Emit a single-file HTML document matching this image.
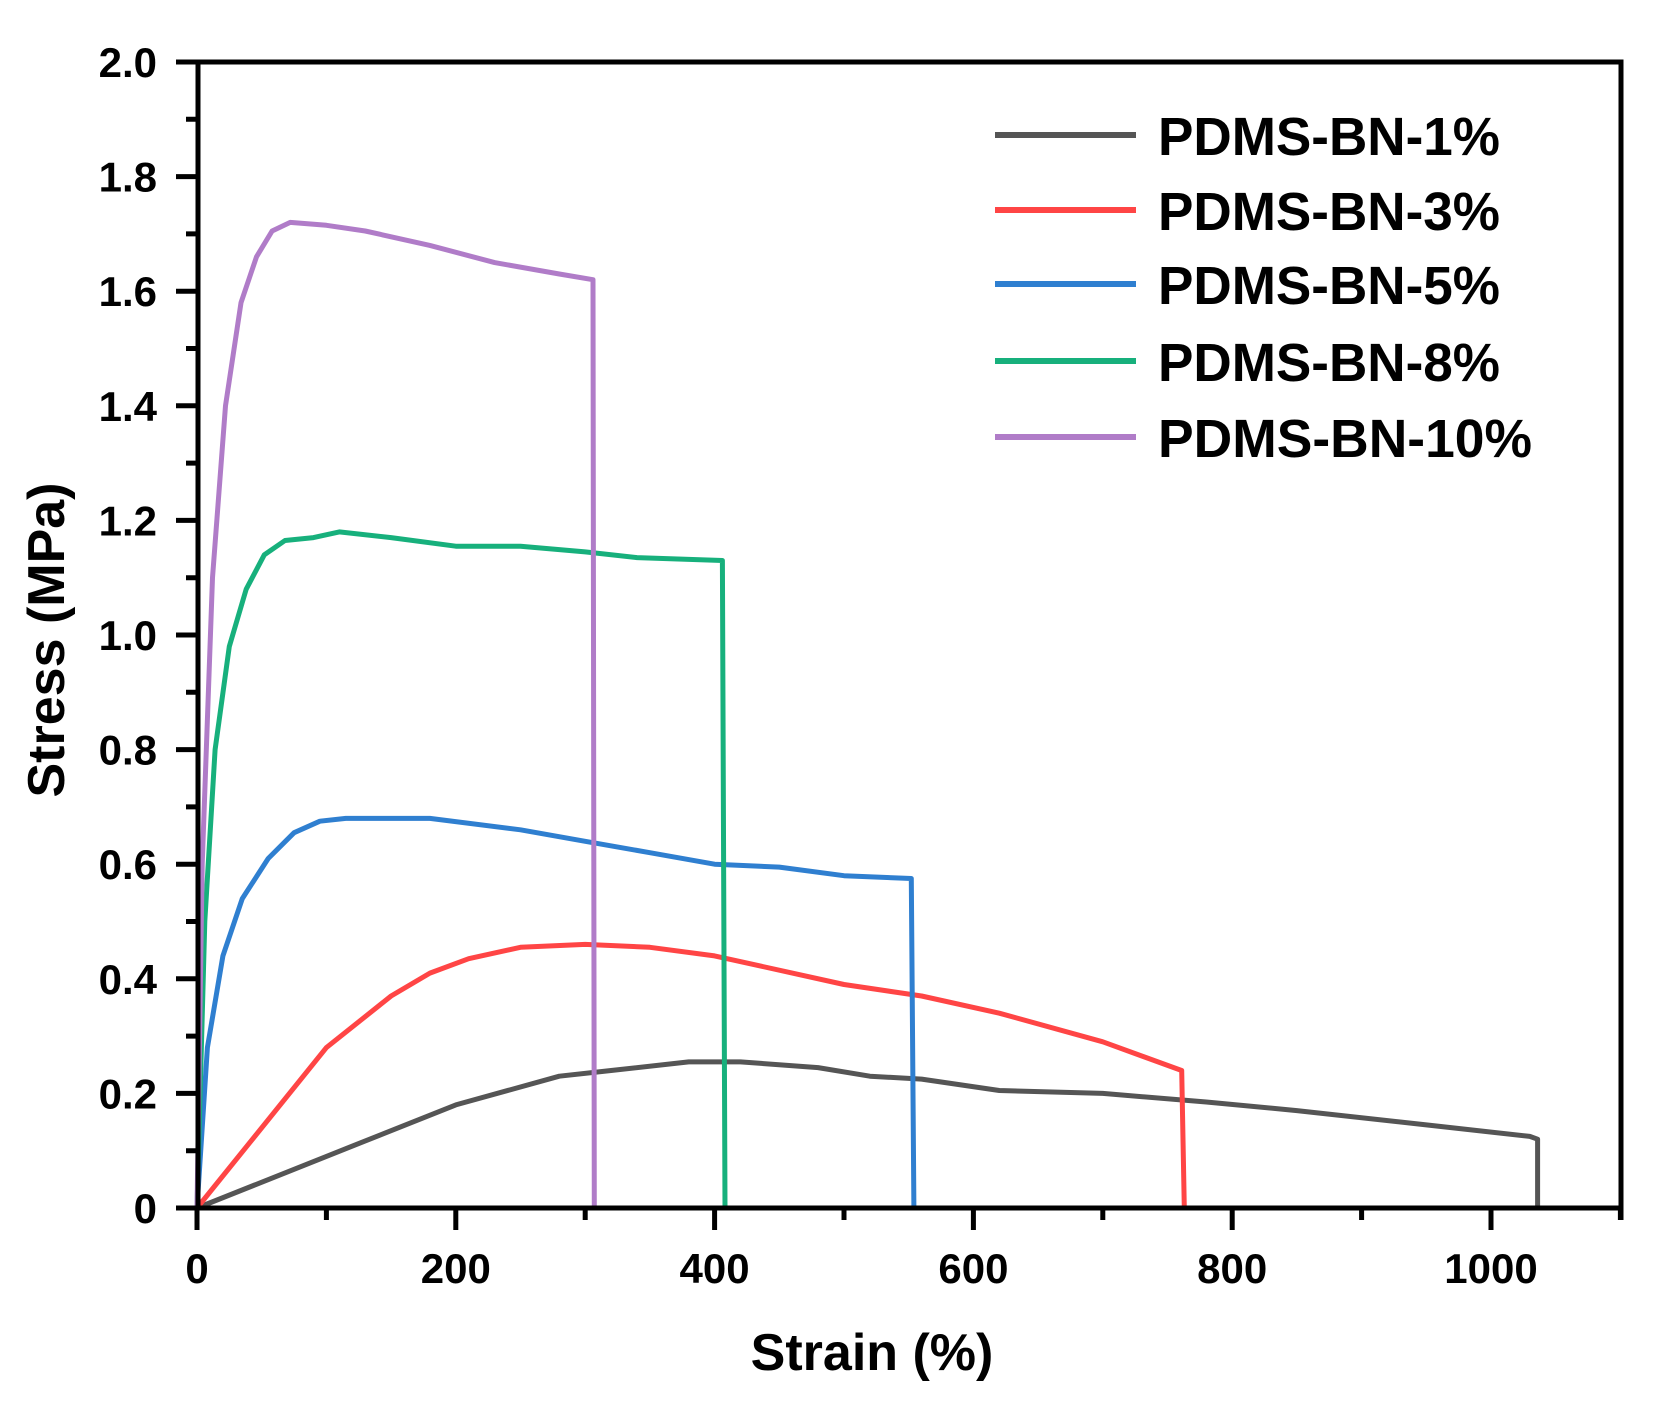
<!DOCTYPE html>
<html><head><meta charset="utf-8"><style>html,body{margin:0;padding:0;background:#fff}svg{display:block}</style></head>
<body>
<svg width="1663" height="1401" viewBox="0 0 1663 1401" xmlns="http://www.w3.org/2000/svg" font-family="Liberation Sans, Arial, sans-serif" font-weight="bold">
<rect width="1663" height="1401" fill="#fff"/>
<g id="curves" fill="none" stroke-width="5" stroke-linejoin="round"></g>
<g id="axes" stroke="#000" stroke-width="5" fill="none"></g>
<g id="labels" fill="#000"></g>
<g font-size="54">
<line x1="995" y1="135" x2="1136" y2="135" stroke="#555" stroke-width="6"/>
<line x1="995" y1="210" x2="1136" y2="210" stroke="#ff4545" stroke-width="6"/>
<line x1="995" y1="284" x2="1136" y2="284" stroke="#2f7fd0" stroke-width="6"/>
<line x1="995" y1="361" x2="1136" y2="361" stroke="#17b07c" stroke-width="6"/>
<line x1="995" y1="437" x2="1136" y2="437" stroke="#b07cc8" stroke-width="6"/>
<text x="1158" y="155" textLength="342" lengthAdjust="spacingAndGlyphs">PDMS-BN-1%</text>
<text x="1158" y="230" textLength="342" lengthAdjust="spacingAndGlyphs">PDMS-BN-3%</text>
<text x="1158" y="304" textLength="342" lengthAdjust="spacingAndGlyphs">PDMS-BN-5%</text>
<text x="1158" y="381" textLength="342" lengthAdjust="spacingAndGlyphs">PDMS-BN-8%</text>
<text x="1158" y="457" textLength="374" lengthAdjust="spacingAndGlyphs">PDMS-BN-10%</text>
</g>
<text x="872" y="1370" font-size="52" text-anchor="middle">Strain (%)</text>
<text transform="translate(64,640) rotate(-90)" font-size="52" text-anchor="middle">Stress (MPa)</text>
<script>
(function(){
var NS="http://www.w3.org/2000/svg";
function X(x){return 197+1.294*x;} function Y(s){return 1208-573*s;}
var series=[
["#555",[[0,0],[100,0.09],[200,0.18],[280,0.23],[320,0.24],[380,0.255],[420,0.255],[480,0.245],[520,0.23],[560,0.225],[620,0.205],[700,0.2],[780,0.185],[850,0.17],[950,0.145],[1030,0.125],[1036,0.12],[1036,0]]],
["#ff4545",[[0,0],[100,0.28],[150,0.37],[180,0.41],[210,0.435],[250,0.455],[300,0.46],[350,0.455],[400,0.44],[500,0.39],[560,0.37],[620,0.34],[700,0.29],[761,0.24],[763,0]]],
["#2f7fd0",[[0,0],[8,0.28],[20,0.44],[35,0.54],[55,0.61],[75,0.655],[95,0.675],[115,0.68],[180,0.68],[250,0.66],[300,0.64],[350,0.62],[400,0.6],[450,0.595],[500,0.58],[552,0.575],[554,0]]],
["#17b07c",[[0,0],[6,0.5],[14,0.8],[25,0.98],[38,1.08],[52,1.14],[68,1.165],[90,1.17],[110,1.18],[150,1.17],[200,1.155],[250,1.155],[300,1.145],[340,1.135],[406,1.13],[408,0]]],
["#b07cc8",[[0,0],[4,0.6],[12,1.1],[22,1.4],[34,1.58],[46,1.66],[58,1.705],[72,1.72],[100,1.715],[130,1.705],[180,1.68],[230,1.65],[280,1.63],[306,1.62],[307,0]]]
];
var g=document.getElementById("curves");
series.forEach(function(s){var p=document.createElementNS(NS,"polyline");
p.setAttribute("points",s[1].map(function(q){return X(q[0]).toFixed(1)+","+Y(q[1]).toFixed(1);}).join(" "));
p.setAttribute("stroke",s[0]);g.appendChild(p);});
var a=document.getElementById("axes"),d="M198,62 H1621 V1220 M198,62 V1208 H1621";
for(var i=0;i<=20;i++){var y=Y(i/10);d+=" M198,"+y+" h"+(i%2?-12:-22);}
for(var j=0;j<=11;j++){var x=X(j*100);d+=" M"+x+",1208 v"+(j%2?12:22);}
var p=document.createElementNS(NS,"path");p.setAttribute("d",d);a.appendChild(p);
var L=document.getElementById("labels");
for(var i=0;i<=10;i++){var t=document.createElementNS(NS,"text");t.setAttribute("x",157);t.setAttribute("y",Y(i/5)+15);t.setAttribute("font-size","42");t.setAttribute("text-anchor","end");t.textContent=i==0?"0":(i/5).toFixed(1);L.appendChild(t);}
for(var j=0;j<=5;j++){var t=document.createElementNS(NS,"text");t.setAttribute("x",X(j*200));t.setAttribute("y",1283);t.setAttribute("font-size","42");t.setAttribute("text-anchor","middle");t.textContent=String(j*200);L.appendChild(t);}
})();
</script>
</svg>
</body></html>
